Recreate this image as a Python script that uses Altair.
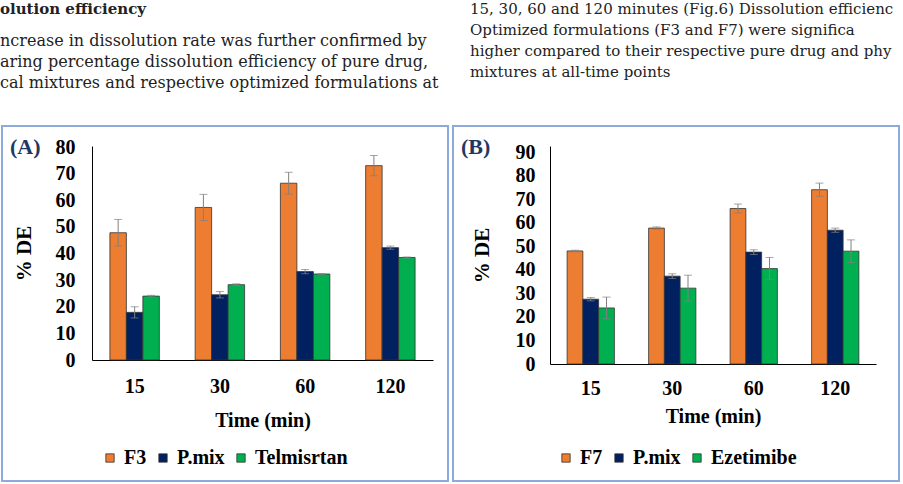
import altair as alt
import pandas as pd

TIMES = ["15", "30", "60", "120"]
COLORS = ["#ED7D31", "#002060", "#00B050"]

# Panel A
A_SERIES = ["F3", "P.mix", "Telmisrtan"]
A_F3 = [47.8, 57.3, 66.4, 73.0]
A_F3_ERR = [5.0, 4.9, 4.1, 3.8]
A_PMIX = [17.9, 24.5, 33.2, 42.2]
A_PMIX_ERR = [2.1, 1.2, 0.8, 0.6]
A_TELM = [24.0, 28.3, 32.3, 38.5]
A_TELM_ERR = [0.3, 0.3, 0.2, 0.2]
A_TICKS = [0, 10, 20, 30, 40, 50, 60, 70, 80]

# Panel B
B_SERIES = ["F7", "P.mix", "Ezetimibe"]
B_F7 = [48.0, 57.7, 66.0, 74.0]
B_F7_ERR = [0.3, 0.5, 1.9, 2.8]
B_PMIX = [27.5, 37.3, 47.5, 56.8]
B_PMIX_ERR = [0.7, 1.0, 1.0, 0.9]
B_EZE = [23.8, 32.2, 40.5, 47.9]
B_EZE_ERR = [4.6, 5.5, 4.7, 4.8]
B_TICKS = [0, 10, 20, 30, 40, 50, 60, 70, 80, 90]

A_HEAD = "olution efficiency"
A_TEXT = [
    "ncrease in dissolution rate was further confirmed by",
    "aring percentage dissolution efficiency of pure drug,",
    "cal mixtures and respective optimized formulations at",
]
B_TEXT = [
    "15, 30, 60 and 120 minutes (Fig.6) Dissolution efficienc",
    "Optimized formulations (F3 and F7) were significa",
    "higher compared to their respective pure drug and phy",
    "mixtures at all-time points",
]

FONT = "Liberation Serif"
TXT = "DejaVu Serif"


def long_df(series, vals, errs):
    rows = []
    for s, v, e in zip(series, vals, errs):
        for t, vv, ee in zip(TIMES, v, e):
            rows.append({"time": t, "series": s, "value": vv, "lo": vv - ee, "hi": vv + ee})
    return pd.DataFrame(rows)


def panel(df, series, ymax, ticks, w, h, frame, label, lab_pad_y, title_pad_y,
          lab_pad_x, title_pad_x, leg_xy, lines, text_xy, text_size):
    xenc = alt.X("time:N", sort=TIMES,
                 scale=alt.Scale(paddingInner=0.42, paddingOuter=0.21),
                 axis=alt.Axis(title="Time (min)", labelAngle=0, ticks=False, grid=False,
                               domainColor="#000000", domainWidth=1,
                               labelFont=FONT, labelFontSize=20, labelFontWeight="bold",
                               labelColor="#000000", labelPadding=lab_pad_x,
                               titleFont=FONT, titleFontSize=20, titleFontWeight="bold",
                               titleColor="#000000", titlePadding=title_pad_x))
    xoff = alt.XOffset("series:N", sort=series, scale=alt.Scale(paddingInner=0, paddingOuter=0))
    yaxis = alt.Axis(title="% DE", values=ticks, ticks=False, grid=False,
                     labelOverlap=False,
                     domainColor="#000000", domainWidth=1,
                     labelFont=FONT, labelFontSize=20, labelFontWeight="bold",
                     labelColor="#000000", labelPadding=lab_pad_y,
                     titleFont=FONT, titleFontSize=21, titleFontWeight="bold",
                     titleColor="#000000", titlePadding=title_pad_y)
    yscale = alt.Scale(domain=[0, ymax], nice=False)
    base = alt.Chart(df).encode(x=xenc, xOffset=xoff)
    bars = base.mark_bar(stroke="#333333", strokeWidth=0.8).encode(
        y=alt.Y("value:Q", scale=yscale, axis=yaxis),
        color=alt.Color("series:N", sort=series,
                        scale=alt.Scale(domain=series, range=COLORS),
                        legend=alt.Legend(title=None, orient="none", direction="horizontal",
                                          legendX=leg_xy[0], legendY=leg_xy[1],
                                          symbolType="square", symbolSize=70,
                                          symbolStrokeColor="#333333", symbolStrokeWidth=0.8,
                                          labelFont=FONT, labelFontSize=20,
                                          labelFontWeight="bold", labelColor="#000000",
                                          labelOffset=4, columnPadding=6)),
    )
    rule = base.mark_rule(color="#808080", strokeWidth=1).encode(
        y=alt.Y("lo:Q", scale=yscale, axis=yaxis), y2="hi:Q")
    cap_hi = base.mark_tick(color="#808080", size=8, thickness=1).encode(
        y=alt.Y("hi:Q", scale=yscale, axis=yaxis))
    cap_lo = base.mark_tick(color="#808080", size=8, thickness=1).encode(
        y=alt.Y("lo:Q", scale=yscale, axis=yaxis))

    one = alt.Chart(pd.DataFrame({"k": [0]}))
    fr = one.mark_rect(fillOpacity=0, stroke="#8EA9DB", strokeWidth=2).encode(
        x=alt.value(frame[0]), x2=alt.value(frame[1]),
        y=alt.value(frame[2]), y2=alt.value(frame[3]))
    lab = one.mark_text(text=label, font=FONT, fontSize=22, fontWeight="bold",
                        color="#1F3864", align="left", baseline="middle").encode(
        x=alt.value(frame[0] + 8), y=alt.value(1))
    para = one.mark_text(text=lines, font=TXT, fontSize=text_size, lineHeight=21,
                         color="#222222", align="left", baseline="top").encode(
        x=alt.value(text_xy[0]), y=alt.value(text_xy[1]))
    return [fr, bars, rule, cap_hi, cap_lo, lab, para]


dfa = long_df(A_SERIES, [A_F3, A_PMIX, A_TELM], [A_F3_ERR, A_PMIX_ERR, A_TELM_ERR])
dfb = long_df(B_SERIES, [B_F7, B_PMIX, B_EZE], [B_F7_ERR, B_PMIX_ERR, B_EZE_ERR])

one = alt.Chart(pd.DataFrame({"k": [0]}))
head_a = one.mark_text(text=A_HEAD, font=TXT, fontSize=15, fontWeight="bold",
                       color="#222222", align="left", baseline="top").encode(
    x=alt.value(-92), y=alt.value(-144))

# both plot areas share the same top edge on the page
pa = alt.layer(*panel(dfa, A_SERIES, 80 * 214 / 213, A_TICKS, 341, 214,
                      (-90, 356, -20, 335), "(A)", 17, 21, 16, 14, (8, 302),
                      A_TEXT, (-92, -113), 16), head_a).properties(width=341, height=214)
pb = alt.layer(*panel(dfb, B_SERIES, 90 * 218 / 212, B_TICKS, 326, 218,
                      (-97, 349, -20, 335), "(B)", 15, 23, 14, 8, (6, 302),
                      B_TEXT, (-80, -144), 15)).properties(width=326, height=218)

chart = alt.concat(pa, pb, columns=2, spacing=3).resolve_scale(
    x="independent", y="independent", color="independent", xOffset="independent"
).resolve_legend(color="independent").resolve_axis(x="independent", y="independent").properties(
    padding={"left": 0, "top": 2, "right": 0, "bottom": 0},
    background="white",
).configure_view(stroke=None)

chart.save("out.html", embed_options={"renderer": "svg", "actions": False})
